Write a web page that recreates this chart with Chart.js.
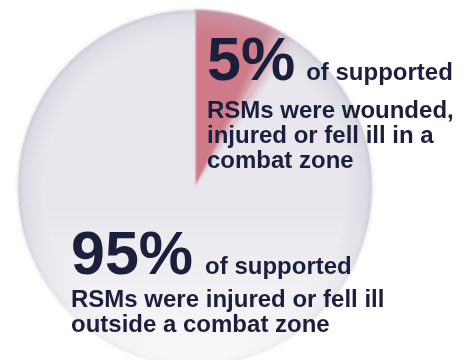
<!DOCTYPE html>
<html>
<head>
<meta charset="utf-8">
<script src="https://cdn.jsdelivr.net/npm/chart.js@4/dist/chart.umd.min.js"></script>
<style>
  html, body { margin: 0; padding: 0; background: #ffffff; width: 464px; height: 360px; overflow: hidden; }
  #wrap { position: relative; width: 464px; height: 360px; overflow: hidden; }
  #c { position: absolute; left: 0; top: 0; }
  .ln { position: absolute; white-space: nowrap; line-height: 0; height: 0;
        font-family: "Liberation Sans", Arial, sans-serif; font-weight: bold; color: #1b1f3c; }
  .big { font-size: 61px; }
  .sm { font-size: 24px; }
</style>
</head>
<body>
<div id="wrap">
  <canvas id="c" width="464" height="370"></canvas>
</div>
<script>
// ---- data ----
const categories = ["Wounded, injured or fell ill in a combat zone", "Injured or fell ill outside a combat zone"];
const statedPercent = [5, 95];            // numbers printed in the labels
const drawnShare = [8.2, 91.8];           // share of the circle the pink wedge actually covers in the picture
const bigLabels = ["5%", "95%"];
const leadText = ["of supported", "of supported"];
const bodyLines = [
  ["RSMs were wounded,", "injured or fell ill in a", "combat zone"],
  ["RSMs were injured or fell ill", "outside a combat zone"]
];

const PINK = "#cf7b8a";
const GRAY = "#e7e7ed";

function wedgeFill(ctx) {
  const chart = ctx.chart;
  const area = chart.chartArea;
  const fallback = ctx.dataIndex === 0 ? PINK : GRAY;
  if (!area || !chart.ctx.createConicGradient) return fallback;
  const cx = (area.left + area.right) / 2, cy = (area.top + area.bottom) / 2;
  if (!isFinite(cx) || !isFinite(cy)) return fallback;
  const g = chart.ctx.createConicGradient(-Math.PI / 2, cx, cy);
  const mid = drawnShare[0] / (drawnShare[0] + drawnShare[1]);
  g.addColorStop(0, PINK);
  g.addColorStop(Math.max(0, mid - 0.014), PINK);
  g.addColorStop(Math.min(1, mid + 0.016), GRAY);
  g.addColorStop(1, GRAY);
  return g;
}

const shading = {
  id: "shading",
  beforeDatasetsDraw(chart) {
    const c = chart.ctx;
    const arc = chart.getDatasetMeta(0).data[0];
    c.save();
    if (arc && isFinite(arc.x)) {
      c.beginPath();
      c.arc(arc.x, arc.y, arc.outerRadius - 0.5, 0, Math.PI * 2);
      c.fillStyle = GRAY;
      c.shadowColor = "rgba(40,40,80,0.18)";
      c.shadowBlur = 5;
      c.fill();
      c.restore();
      c.save();
    }
    c.filter = "blur(0.8px)";
  },
  afterDatasetsDraw(chart) {
    const c = chart.ctx;
    const arc = chart.getDatasetMeta(0).data[0];
    if (arc && isFinite(arc.x)) {
      const R = arc.outerRadius, x = arc.x, y = arc.y;
      c.save();
      c.beginPath();
      c.arc(x, y, R, 0, Math.PI * 2);
      c.clip();
      const rg = c.createRadialGradient(x, y, R * 0.86, x, y, R);
      rg.addColorStop(0, "rgba(190,190,205,0)");
      rg.addColorStop(0.8, "rgba(190,190,205,0.28)");
      rg.addColorStop(1, "rgba(170,170,190,0.45)");
      c.fillStyle = rg;
      c.fillRect(x - R, y - R, 2 * R, 2 * R);
      const lg = c.createLinearGradient(0, y + R * 0.1, 0, y + R);
      lg.addColorStop(0, "rgba(255,255,255,0)");
      lg.addColorStop(1, "rgba(255,255,255,0.8)");
      c.fillStyle = lg;
      c.fillRect(x - R, y, 2 * R, R);
      c.restore();
    }
    c.restore();
  }
};

// ---- text labels (real DOM text), placed by baseline ----
const wrap = document.getElementById("wrap");
function addLine(x, baseline, html, size) {
  const d = document.createElement("div");
  d.className = "ln";
  d.style.fontSize = size + "px";
  d.style.left = x + "px";
  d.style.top = (baseline - 0.3465 * size) + "px";
  d.innerHTML = html;
  wrap.appendChild(d);
}
const blocks = [
  { x: 207, base: 80, gap: 11, lineStart: 118 },
  { x: 71, base: 274, gap: 12, lineStart: 307 }
];
blocks.forEach((b, i) => {
  addLine(b.x, b.base,
    '<span class="big">' + bigLabels[i] + '</span><span class="sm" style="margin-left:' + b.gap + 'px">' + leadText[i] + '</span>', 61);
  bodyLines[i].forEach((t, j) => addLine(b.x, b.lineStart + 25 * j, t, 24));
});

new Chart(document.getElementById("c"), {
  type: "pie",
  data: {
    labels: categories,
    datasets: [{
      data: drawnShare,
      backgroundColor: wedgeFill,
      borderWidth: 0,
      hoverOffset: 0,
      offset: 0
    }]
  },
  options: {
    responsive: false,
    animation: false,
    events: [],
    layout: { padding: { left: 18, right: 92, top: 10, bottom: 6 } },
    plugins: { legend: { display: false }, tooltip: { enabled: false }, title: { display: false } }
  },
  plugins: [shading]
});
</script>
</body>
</html>
